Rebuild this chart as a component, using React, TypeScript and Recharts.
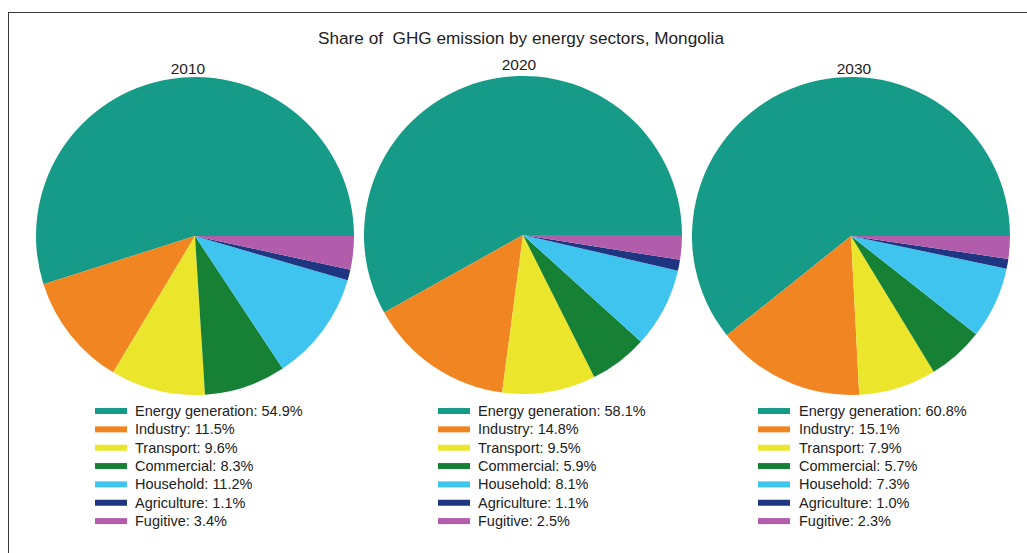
import { PieChart, Pie, Cell } from 'recharts';

const sectors = ['Energy generation', 'Industry', 'Transport', 'Commercial', 'Household', 'Agriculture', 'Fugitive'];
const colors = ['#169b89', '#f18522', '#ebe52b', '#168035', '#3fc4ef', '#1e3581', '#b15dab'];
const years = ['2010', '2020', '2030'];
const share2010 = [54.9, 11.5, 9.6, 8.3, 11.2, 1.1, 3.4];
const share2020 = [58.1, 14.8, 9.5, 5.9, 8.1, 1.1, 2.5];
const share2030 = [60.8, 15.1, 7.9, 5.7, 7.3, 1.0, 2.3];

const shares = [share2010, share2020, share2030];

// layout for each year: pie centre, label and legend positions
const layout = [
  { cx: 195, cy: 236, labelX: 188, legendX: 95 },
  { cx: 523, cy: 235, labelX: 519, legendX: 438 },
  { cx: 851, cy: 236, labelX: 854, legendX: 758 },
];

const font = '"Liberation Sans", Arial, sans-serif';

export default function App() {
  const pies = shares.map((vals) => vals.map((v, i) => ({ name: sectors[i], value: v })));

  return (
    <div
      style={{
        position: 'absolute',
        left: 0,
        top: 0,
        width: 1027,
        height: 553,
        overflow: 'hidden',
        background: '#fff',
        fontFamily: font,
      }}
    >
      <div
        style={{
          position: 'absolute',
          left: 8,
          top: 12,
          width: 1030,
          height: 560,
          borderTop: '1.5px solid #3a3a3a',
          borderLeft: '1.5px solid #3a3a3a',
        }}
      />
      <PieChart
        width={1027}
        height={553}
        margin={{ top: 0, right: 0, bottom: 0, left: 0 }}
        style={{ position: 'absolute', left: 0, top: 0 }}
      >
        {pies.map((data, k) => (
          <Pie
            key={years[k]}
            data={data}
            dataKey="value"
            nameKey="name"
            cx={layout[k].cx}
            cy={layout[k].cy}
            outerRadius={159}
            startAngle={0}
            endAngle={360}
            stroke="none"
            isAnimationActive={false}
          >
            {data.map((d, i) => (
              <Cell key={d.name} fill={colors[i]} />
            ))}
          </Pie>
        ))}
      </PieChart>
      <svg width={1027} height={553} style={{ position: 'absolute', left: 0, top: 0, pointerEvents: 'none' }}>
        <text
          x={521}
          y={38}
          textAnchor="middle"
          dominantBaseline="central"
          fontSize={17.2}
          fill="#222"
          fontFamily={font}
          style={{ whiteSpace: 'pre' }}
        >
          {'Share of  GHG emission by energy sectors, Mongolia'}
        </text>
        {years.map((y, k) => (
          <text
            key={y}
            x={layout[k].labelX}
            y={k === 1 ? 64.5 : 68.5}
            textAnchor="middle"
            dominantBaseline="central"
            fontSize={15.5}
            fill="#222"
            fontFamily={font}
          >
            {y}
          </text>
        ))}
        {shares.map((vals, k) =>
          vals.map((v, i) => (
            <g key={`${k}-${i}`}>
              <rect x={layout[k].legendX} y={411 + i * 18.35 - 3} width={32} height={6} fill={colors[i]} />
              <text
                x={layout[k].legendX + (k === 2 ? 41 : 40)}
                y={411 + i * 18.35}
                dominantBaseline="central"
                fontSize={14.5}
                fill="#222"
                fontFamily={font}
              >
                {`${sectors[i]}: ${v.toFixed(1)}%`}
              </text>
            </g>
          ))
        )}
      </svg>
    </div>
  );
}
